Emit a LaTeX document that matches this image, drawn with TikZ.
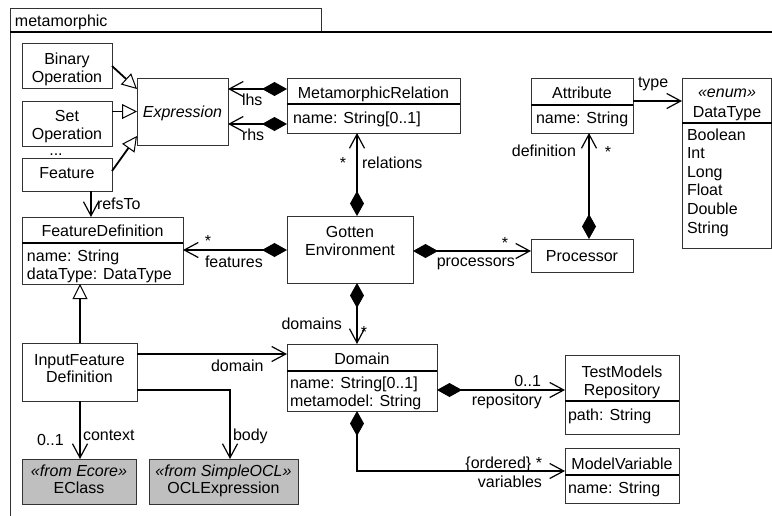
\documentclass[tikz,border=0pt]{standalone}
\usepackage{fontspec}
\setmainfont{Liberation Sans}
\usetikzlibrary{arrows.meta,fit}

\begin{document}
\begin{tikzpicture}[x=1pt,y=-1pt,
  every node/.style={font=\fontsize{16}{18.6}\selectfont, inner sep=0pt, outer sep=0pt},
  box/.style={draw=black!80, line width=1pt, fill=white, inner sep=0pt, outer sep=0pt},
  extbox/.style={box, fill=gray!50},
  txt/.style={anchor=base},
  txtl/.style={anchor=base west},
  txtr/.style={anchor=base east},
  divider/.style={line width=1.8pt},
  link/.style={line width=1.8pt},
  nav/.style={link, -{Straight Barb[length=14pt,width=15pt,line width=1.2pt]}},
  comp/.style={link, {Diamond[length=25pt,width=14pt]}-{Straight Barb[length=14pt,width=15pt,line width=1.2pt]}},
  gen/.style={link, -{Triangle[open,length=15pt,width=15pt,line width=1pt]}},
]
\useasboundingbox (0,0) rectangle (772,515);
\clip (0,0) rectangle (772,515);

% package frame with its name tab
\draw[line width=1pt, draw=black!80] (10,516) -- (10,32);
\node[draw=black!80, line width=1pt, fit={(10,8) (321,32)}, inner sep=0pt] (tab) {};
\draw[line width=2pt] (10,32) -- (773,32);
\node[txtl] (tabname) at (15,26.5) {metamorphic};

% classes
\node[box, fit={(22,43) (112,88)}] (binop) {};
\node[txt] (binop1) at (67,64) {Binary};
\node[txt] (binop2) at (67,82) {Operation};

\node[box, fit={(22,101) (112,146)}] (setop) {};
\node[txt] (setop1) at (67,121) {Set};
\node[txt] (setop2) at (67,139) {Operation};
\node[txt] (dots) at (56,155) {...};

\node[box, fit={(22,158) (112,191)}] (feature) {};
\node[txt] (feature1) at (67,178.5) {Feature};

\node[box, fit={(137,78) (228,145)}] (expr) {};
\node[txt] (expr1) at (182.5,117) {\itshape Expression};

\node[box, fit={(287,78) (460,133)}] (mr) {};
\draw[divider] (mr.west |- 0,104) -- (mr.east |- 0,104);
\node[txt] (mr1) at (373.5,98) {MetamorphicRelation};
\node[txtl] (mr2) at (293,123) {name: String[0..1]};

\node[box, fit={(531,78) (633,133)}] (attr) {};
\draw[divider] (attr.west |- 0,105) -- (attr.east |- 0,105);
\node[txt] (attr1) at (582,98) {Attribute};
\node[txtl] (attr2) at (536,123) {name: String};

\node[box, fit={(682,78) (771.5,248)}] (dtype) {};
\draw[divider] (dtype.west |- 0,123) -- (dtype.east |- 0,123);
\node[txt] (dtype1) at (727,97) {\itshape «enum»};
\node[txt] (dtype2) at (727,117) {DataType};
\node[txtl] (lit1) at (687,140) {Boolean};
\node[txtl] (lit2) at (687,158.6) {Int};
\node[txtl] (lit3) at (687,177.2) {Long};
\node[txtl] (lit4) at (687,195.8) {Float};
\node[txtl] (lit5) at (687,214.4) {Double};
\node[txtl] (lit6) at (687,233) {String};

\node[box, fit={(287,216) (413,283)}] (gotten) {};
\node[txt] (gotten1) at (350,237) {Gotten};
\node[txt] (gotten2) at (350,255) {Environment};

\node[box, fit={(22,217) (183,284)}] (fd) {};
\draw[divider] (fd.west |- 0,243) -- (fd.east |- 0,243);
\node[txt] (fd1) at (102.5,236) {FeatureDefinition};
\node[txtl] (fd2) at (27,261) {name: String};
\node[txtl] (fd3) at (27,279) {dataType: DataType};

\node[box, fit={(531,239) (633,272)}] (proc) {};
\node[txt] (proc1) at (582,261) {Processor};

\node[box, fit={(22,343) (137,401)}] (ifd) {};
\node[txt] (ifd1) at (79.5,365) {InputFeature};
\node[txt] (ifd2) at (79.5,382) {Definition};

\node[box, fit={(287,344) (437,411)}] (domain) {};
\draw[divider] (domain.west |- 0,371) -- (domain.east |- 0,371);
\node[txt] (domain1) at (362,364) {Domain};
\node[txtl] (domain2) at (290,388) {name: String[0..1]};
\node[txtl] (domain3) at (290,406) {metamodel: String};

\node[box, fit={(565,355) (679,434)}] (tmr) {};
\draw[divider] (tmr.west |- 0,401) -- (tmr.east |- 0,401);
\node[txt] (tmr1) at (622,377) {TestModels};
\node[txt] (tmr2) at (622,395) {Repository};
\node[txtl] (tmr3) at (568,420) {path: String};

\node[box, fit={(565,448) (679,503)}] (mv) {};
\draw[divider] (mv.west |- 0,475) -- (mv.east |- 0,475);
\node[txt] (mv1) at (622,469) {ModelVariable};
\node[txtl] (mv2) at (568,493) {name: String};

\node[extbox, fit={(22,459) (136,504)}] (eclass) {};
\node[txt] (eclass1) at (79,476) {\itshape «from Ecore»};
\node[txt] (eclass2) at (79,493) {EClass};

\node[extbox, fit={(149,459) (298,504)}] (ocl) {};
\node[txt] (ocl1) at (223.5,476) {\itshape «from SimpleOCL»};
\node[txt] (ocl2) at (223.5,493) {OCLExpression};

% generalizations
\draw[gen] (binop.east |- 0,66) -- (expr.west |- 0,89);
\draw[gen] (setop.east |- 0,111.5) -- (expr.west |- 0,111.5);
\draw[gen] (feature.east |- 0,171) -- (expr.west |- 0,136);
\draw[gen] (ifd.north -| 80,0) -- (fd.south -| 80,0);

% compositions
\draw[comp] (mr.west |- 0,89) -- (expr.east |- 0,89);
\draw[comp] (mr.west |- 0,124) -- (expr.east |- 0,124);
\draw[comp] (gotten.north -| 357,0) -- (mr.south -| 357,0);
\draw[comp] (gotten.west |- 0,250) -- (fd.east |- 0,250);
\draw[comp] (gotten.east |- 0,251) -- (proc.west |- 0,251);
\draw[comp] (proc.north -| 589,0) -- (attr.south -| 589,0);
\draw[comp] (gotten.south -| 357,0) -- (domain.north -| 357,0);
\draw[comp] (domain.east |- 0,390) -- (tmr.west |- 0,390);
\draw[comp] (domain.south -| 357,0) |- (mv.west |- 0,471);

% plain navigable associations
\draw[nav] (attr.east |- 0,101) -- (dtype.west |- 0,101);
\draw[nav] (feature.south -| 91,0) -- (fd.north -| 91,0);
\draw[nav] (ifd.east |- 0,354) -- (domain.west |- 0,354);
\draw[nav] (ifd.east |- 0,390) -| (ocl.north -| 230,0);
\draw[nav] (ifd.south -| 80,0) -- (eclass.north -| 80,0);

% role names and multiplicities
\node[txtl] (lhs) at (242,105) {lhs};
\node[txtl] (rhs) at (242,140) {rhs};
\node[txtr] (relstar) at (346,168.5) {*};
\node[txtl] (rel) at (362,168) {relations};
\node[txt] (featstar) at (208,246.5) {*};
\node[txtl] (feat) at (205,267) {features};
\node[txt] (procstar) at (505,248.5) {*};
\node[txtr] (procs) at (515,266) {processors};
\node[txtr] (defn) at (576,156) {definition};
\node[txt] (defstar) at (608,157.5) {*};
\node[txtl] (typel) at (638,87) {type};
\node[txtl] (refs) at (97,209) {refsTo};
\node[txtl] (dom) at (211,371) {domain};
\node[txtl] (bodyl) at (233,440) {body};
\node[txtl] (ctx) at (83,440) {context};
\node[txtl] (ctxmult) at (37,445) {0..1};
\node[txtr] (doms) at (342,329) {domains};
\node[txt] (domsstar) at (364,337.5) {*};
\node[txtr] (repo) at (542,405) {repository};
\node[txtr] (repomult) at (541,386) {0..1};
\node[txtr] (vars) at (542,487) {variables};
\node[txtr] (varsmult) at (542,468) {\{ordered\} *};
\end{tikzpicture}
\end{document}
